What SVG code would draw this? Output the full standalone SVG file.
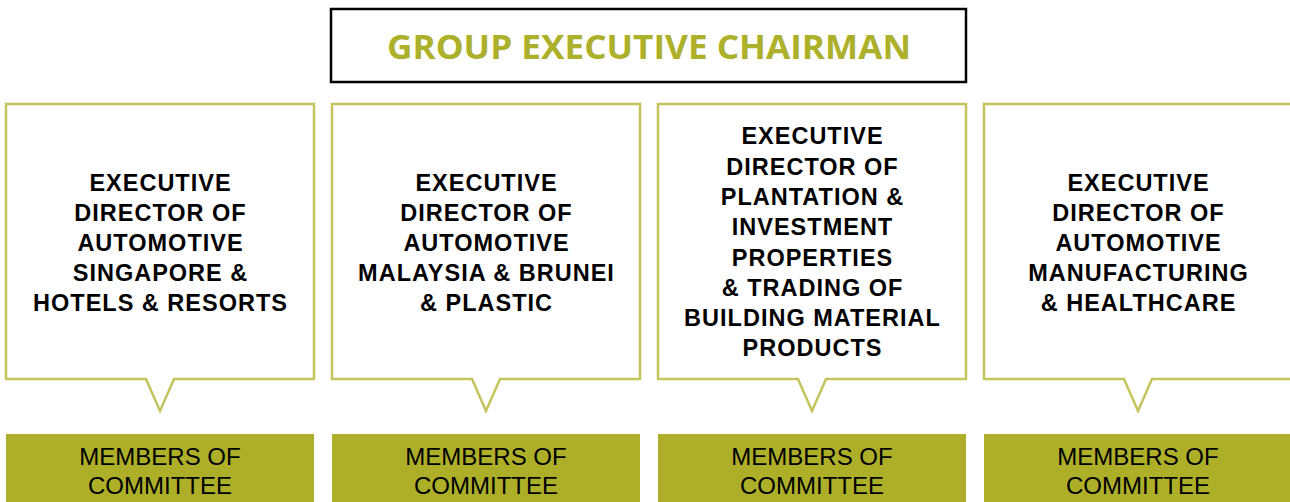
<svg xmlns="http://www.w3.org/2000/svg" width="1290" height="502" viewBox="0 0 1290 502">
<defs>
<style>
.bg{fill:#ffffff}
.chair{fill:#ffffff;stroke:#000000;stroke-width:2.5}
.title{font-family:"Open Sans","Liberation Sans",sans-serif;font-weight:bold;font-size:33.5px;fill:#adb02a;text-anchor:middle}
.dir{fill:#ffffff;stroke:#c4c35c;stroke-width:2.5;stroke-linejoin:miter}
.dt{font-family:"Liberation Sans",Arial,sans-serif;font-weight:bold;font-size:23.5px;letter-spacing:1px;fill:#000000;text-anchor:middle}
.mem{fill:#adaf28}
.mt{font-family:"Liberation Sans",Arial,sans-serif;font-size:24px;fill:#000000;text-anchor:middle}
</style>
</defs>
<rect class="bg" x="0" y="0" width="1290" height="502"/>

<g id="chairman">
<rect class="chair" x="331" y="9" width="635" height="73"/>
<text class="title" x="649" y="58.5" textLength="524" lengthAdjust="spacingAndGlyphs">GROUP EXECUTIVE CHAIRMAN</text>
</g>

<g id="connectors">
<path class="dir" d="M6,104 H314 V379 H174 L160,411 L146,379 H6 Z"/>
<path class="dir" d="M332,104 H640 V379 H500 L486,411 L472,379 H332 Z"/>
<path class="dir" d="M658,104 H966 V379 H826 L812,411 L798,379 H658 Z"/>
<path class="dir" d="M984,104 H1292 V379 H1152 L1138,411 L1124,379 H984 Z"/>
</g>

<g id="director1">
<text class="dt" x="160.5" y="191">EXECUTIVE</text>
<text class="dt" x="160.5" y="221">DIRECTOR OF</text>
<text class="dt" x="160.5" y="251">AUTOMOTIVE</text>
<text class="dt" x="160.5" y="281">SINGAPORE &amp;</text>
<text class="dt" x="160.5" y="311">HOTELS &amp; RESORTS</text>
</g>

<g id="director2">
<text class="dt" x="486.5" y="191">EXECUTIVE</text>
<text class="dt" x="486.5" y="221">DIRECTOR OF</text>
<text class="dt" x="486.5" y="251">AUTOMOTIVE</text>
<text class="dt" x="486.5" y="281">MALAYSIA &amp; BRUNEI</text>
<text class="dt" x="486.5" y="311">&amp; PLASTIC</text>
</g>

<g id="director3">
<text class="dt" x="812.5" y="144.3">EXECUTIVE</text>
<text class="dt" x="812.5" y="174.6">DIRECTOR OF</text>
<text class="dt" x="812.5" y="204.9">PLANTATION &amp;</text>
<text class="dt" x="812.5" y="235.2">INVESTMENT</text>
<text class="dt" x="812.5" y="265.5">PROPERTIES</text>
<text class="dt" x="812.5" y="295.8">&amp; TRADING OF</text>
<text class="dt" x="812.5" y="326.1">BUILDING MATERIAL</text>
<text class="dt" x="812.5" y="356.4">PRODUCTS</text>
</g>

<g id="director4">
<text class="dt" x="1138.5" y="191">EXECUTIVE</text>
<text class="dt" x="1138.5" y="221">DIRECTOR OF</text>
<text class="dt" x="1138.5" y="251">AUTOMOTIVE</text>
<text class="dt" x="1138.5" y="281">MANUFACTURING</text>
<text class="dt" x="1138.5" y="311">&amp; HEALTHCARE</text>
</g>

<g id="members1">
<rect class="mem" x="6" y="434" width="308" height="70"/>
<text class="mt" x="160" y="465">MEMBERS OF</text>
<text class="mt" x="160" y="493.5">COMMITTEE</text>
</g>
<g id="members2">
<rect class="mem" x="332" y="434" width="308" height="70"/>
<text class="mt" x="486" y="465">MEMBERS OF</text>
<text class="mt" x="486" y="493.5">COMMITTEE</text>
</g>
<g id="members3">
<rect class="mem" x="658" y="434" width="308" height="70"/>
<text class="mt" x="812" y="465">MEMBERS OF</text>
<text class="mt" x="812" y="493.5">COMMITTEE</text>
</g>
<g id="members4">
<rect class="mem" x="984" y="434" width="308" height="70"/>
<text class="mt" x="1138" y="465">MEMBERS OF</text>
<text class="mt" x="1138" y="493.5">COMMITTEE</text>
</g>
</svg>
